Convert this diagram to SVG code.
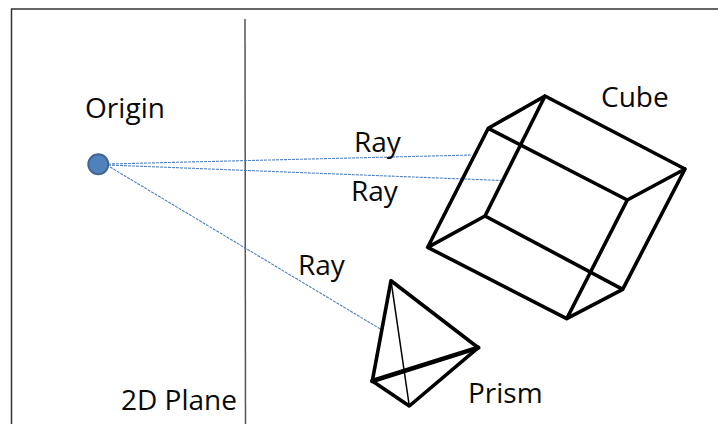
<svg xmlns="http://www.w3.org/2000/svg" width="718" height="424" viewBox="0 0 718 424">
<style>
text{font-family:"Open Sans","Noto Sans",sans-serif;font-size:28px;fill:#0a0a0a}
.ray{fill:none;stroke:#4f81bd;stroke-width:1.100;stroke-dasharray:3 1}
.edge{fill:none;stroke:#000;stroke-width:3.600;stroke-linecap:round;stroke-linejoin:round}
</style>
<rect width="718" height="424" fill="#fff"/>
<path id="frame" d="M718 9H11.500V424" fill="none" stroke="#333" stroke-width="1.500"/>
<g id="plane"><line x1="245" y1="19" x2="245.500" y2="424" stroke="#555" stroke-width="1.500"/><text x="121" y="410" textLength="116">2D Plane</text></g>
<g id="connectors">
<line class="ray" x1="108" y1="164" x2="472" y2="155"/>
<line class="ray" x1="108" y1="165" x2="502" y2="180.500"/>
<line class="ray" x1="110" y1="167" x2="382" y2="330"/>
</g>
<g id="origin"><circle cx="98.300" cy="164.300" r="10" fill="#4f81bd" stroke="#41668f" stroke-width="2"/><text x="85" y="118" textLength="80">Origin</text></g>
<g id="ray-labels"><text x="354" y="152">Ray</text><text x="351" y="201">Ray</text><text x="298" y="275">Ray</text></g>
<g id="cube">
<path class="edge" d="M545 96L685 169L622.700 289.300L566.700 318.700L427.700 247.300L488.300 128.300ZM488.300 128.300L627.300 200L685 169M627.300 200L566.700 318.700M545 96L485 216L622.700 289.300M485 216L427.700 247.300"/>
<text x="601" y="107">Cube</text>
</g>
<g id="prism">
<path class="edge" d="M391 280.700L478.300 347.700L409.300 406L372.300 381Z"/>
<line x1="372.300" y1="381" x2="478.300" y2="347.700" stroke="#000" stroke-width="4.500" stroke-linecap="round"/>
<line x1="391" y1="280.700" x2="409.300" y2="406" stroke="#000" stroke-width="1.500"/>
<text x="468" y="403">Prism</text>
</g>
</svg>
